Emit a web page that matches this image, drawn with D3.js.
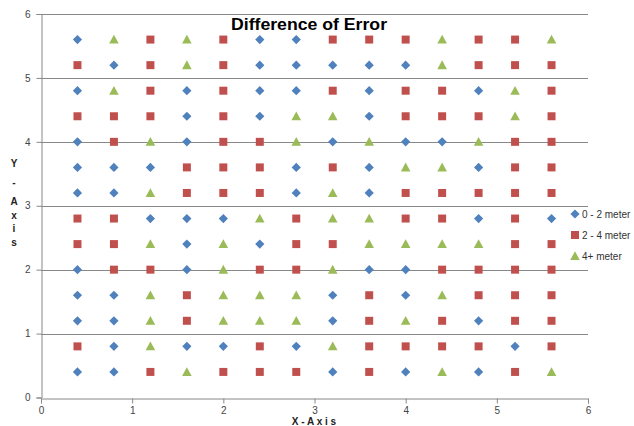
<!DOCTYPE html>
<html>
<head>
<meta charset="utf-8">
<script src="https://cdn.jsdelivr.net/npm/d3@7"></script>
<style>
  html, body { margin: 0; padding: 0; background: #fff; }
  svg { display: block; }
</style>
</head>
<body>
<svg id="chart" width="634" height="426"></svg>
<script>
// ---- data ----
const xValues = [0.4, 0.8, 1.2, 1.6, 2.0, 2.4, 2.8, 3.2, 3.6, 4.0, 4.4, 4.8, 5.2, 5.6];
const yValues = [5.6, 5.2, 4.8, 4.4, 4.0, 3.6, 3.2, 2.8, 2.4, 2.0, 1.6, 1.2, 0.8, 0.4];
// D = "0 - 2 meter", S = "2 - 4 meter", T = "4+ meter"; one string per row (top to bottom), one letter per x
const gridRows = [
  "DTSTSDDSSSTSST",
  "SDSTSDDDDDTSSS",
  "DTSDSDDSDSSDTS",
  "SSSDSDTTDSSSTS",
  "DSTDSSTDTDDTSS",
  "DDDSSSDSDTTDSS",
  "DDTSSSDTDSSSSS",
  "SSDDDTSTTSSDSD",
  "SSTDTDSSTTTTSS",
  "DSSDTSSTDDSSSS",
  "DDTSTTTDSDTSSS",
  "DDTSTTTDSTSDSS",
  "SDTDDSDTSSSSDS",
  "DDSTSSSDSDTDST"
];
const seriesNames = ["0 - 2 meter", "2 - 4 meter", "4+ meter"];
const seriesCodes = ["D", "S", "T"];
const seriesColors = ["#4F81BD", "#C0504D", "#9BBB59"];
const xTicks = [0, 1, 2, 3, 4, 5, 6];
const yTicks = [0, 1, 2, 3, 4, 5, 6];
const titleText = "Difference of Error";
const xTitle = "X - A x i s";
const yTitleChars = ["Y", "-", "A", "x", "i", "s"];

// build series
const series = seriesCodes.map((code, si) => {
  const pts = [];
  gridRows.forEach((row, ri) => {
    row.split("").forEach((c, ci) => {
      if (c === code) pts.push({ x: xValues[ci], y: yValues[ri] });
    });
  });
  return { name: seriesNames[si], code, color: seriesColors[si], points: pts };
});

// ---- layout ----
const svg = d3.select("#chart");
const plotLeft = 41, plotRight = 588, plotTop = 14, plotBottom = 397.5;
const x = d3.scaleLinear().domain([0, 6]).range([plotLeft, plotRight]);
const y = d3.scaleLinear().domain([0, 6]).range([plotBottom, plotTop]);
const gridColor = "#888888";
const font = "'Liberation Sans', Arial, sans-serif";

// gridlines
svg.append("g").selectAll("line").data(yTicks.filter(d => d > 0)).join("line")
  .attr("x1", plotLeft).attr("x2", plotRight)
  .attr("y1", d => Math.round(y(d)) + 0.5).attr("y2", d => Math.round(y(d)) + 0.5)
  .attr("stroke", gridColor).attr("stroke-width", 1);

// axes
const fmt = d3.format("d");
const xAxis = d3.axisBottom(x).tickValues(xTicks).tickFormat(fmt).tickSize(5).tickPadding(3);
const gx = svg.append("g").attr("transform", `translate(0,${Math.round(plotBottom) + 0.5})`).call(xAxis);
const yAxis = d3.axisLeft(y).tickValues(yTicks).tickFormat(fmt).tickSize(5).tickPadding(6);
const gy = svg.append("g").attr("transform", `translate(${plotLeft + 0.5},0)`).call(yAxis);
[gx, gy].forEach(g => {
  g.select(".domain").attr("stroke", gridColor);
  g.selectAll(".tick line").attr("stroke", gridColor);
  g.selectAll(".tick text").attr("fill", "#444").style("font-family", font).style("font-size", "10px");
});

// markers
const markerPath = {
  D: "M0,-4.6L4.6,0L0,4.6L-4.6,0Z",
  S: "M-4,-4H4V4H-4Z",
  T: "M0,-4.8L4.8,4H-4.8Z"
};
const gm = svg.append("g");
series.forEach(s => {
  gm.append("g").selectAll("path").data(s.points).join("path")
    .attr("transform", d => `translate(${x(d.x)},${y(d.y)})`)
    .attr("d", markerPath[s.code])
    .attr("fill", s.color);
});

// title
svg.append("text")
  .attr("x", 309).attr("y", 30)
  .attr("text-anchor", "middle")
  .style("font-family", font).style("font-weight", "bold").style("font-size", "17px")
  .attr("textLength", 156).attr("lengthAdjust", "spacingAndGlyphs")
  .attr("fill", "#000")
  .text(titleText);

// x axis title
svg.append("text")
  .attr("x", 314).attr("y", 425)
  .attr("text-anchor", "middle")
  .style("font-family", font).style("font-weight", "bold").style("font-size", "10px")
  .attr("fill", "#222")
  .text(xTitle);

// y axis title (stacked)
const yTitlePos = [163, 182, 201, 215, 228, 242];
svg.append("g").selectAll("text").data(yTitleChars).join("text")
  .attr("x", 14).attr("y", (d, i) => yTitlePos[i] + 4)
  .attr("text-anchor", "middle")
  .style("font-family", font).style("font-weight", "bold").style("font-size", "10px")
  .attr("fill", "#222")
  .text(d => d);

// legend
const legendY = [214, 235, 256];
const lg = svg.append("g");
series.forEach((s, i) => {
  lg.append("path")
    .attr("transform", `translate(575,${legendY[i]})`)
    .attr("d", markerPath[s.code])
    .attr("fill", s.color);
  lg.append("text")
    .attr("x", 582).attr("y", legendY[i] + 4)
    .style("font-family", font).style("font-size", "10px")
    .attr("fill", "#333")
    .text(s.name);
});
</script>
</body>
</html>
